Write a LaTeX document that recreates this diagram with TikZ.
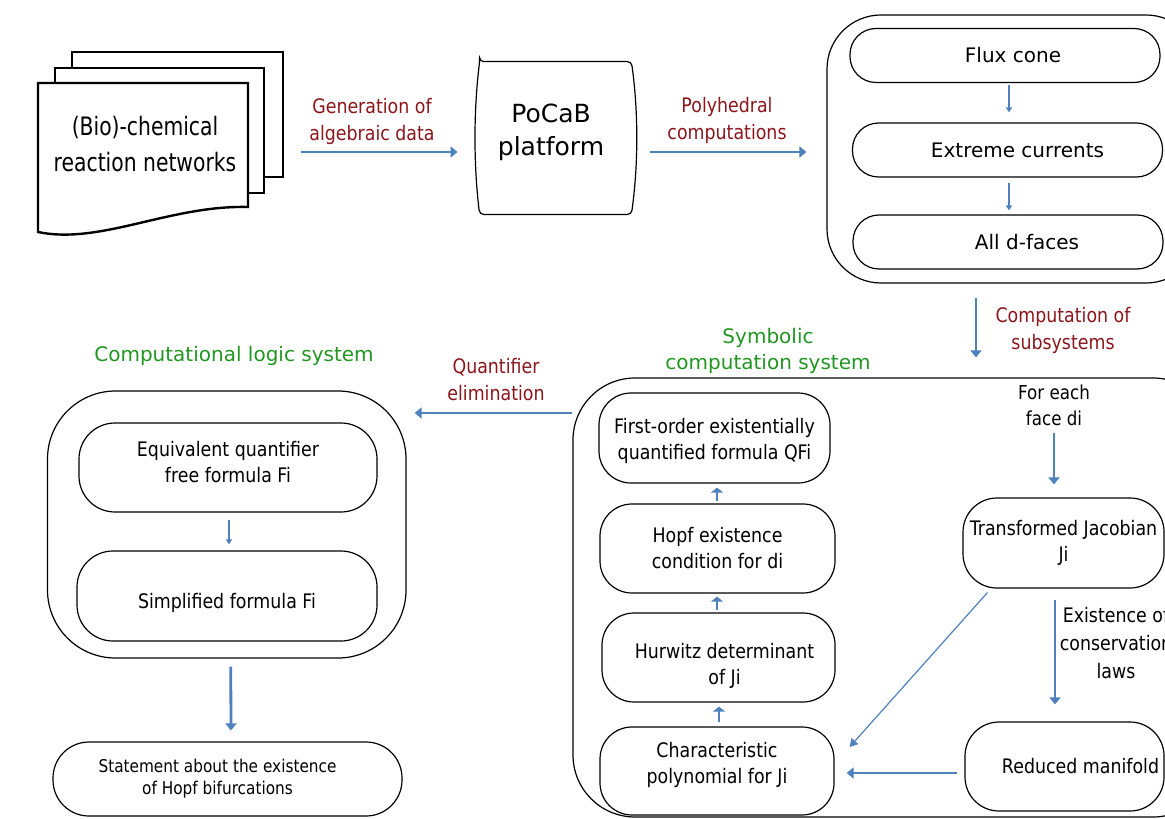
\documentclass[tikz,border=0pt]{standalone}
\usepackage{fontspec}
\setmainfont{DejaVu Sans}
\newfontfamily\condfont[FakeStretch=0.87]{DejaVu Sans}
\newfontfamily\narrowfont[FakeStretch=0.8]{DejaVu Sans}
\usetikzlibrary{arrows.meta}
\definecolor{flowblue}{RGB}{79,129,189}
\definecolor{labelred}{RGB}{140,22,28}
\definecolor{labelgreen}{RGB}{34,150,34}
\newcommand\lowered[2]{\raisebox{#1}[\height][\depth]{\begin{tabular}{@{}c@{}}#2\end{tabular}}}
\tikzset{
  rbox/.style={draw, line width=0.6pt, rounded corners=#1, align=center, inner sep=0pt,
    font=\condfont\fontsize{10}{13}\selectfont},
  rbox/.default=16pt,
  pill/.style={draw, line width=0.6pt, rounded corners=13pt, align=center, inner sep=0pt,
    minimum width=155pt, minimum height=27pt, font=\fontsize{10}{12}\selectfont},
  outer/.style={draw, line width=0.6pt, rounded corners=#1},
  redlabel/.style={text=labelred, align=center, font=\condfont\fontsize{10}{13.5}\selectfont},
  greenlabel/.style={text=labelgreen, align=center, font=\fontsize{10}{13}\selectfont},
  blacklabel/.style={align=center, font=\condfont\fontsize{9.6}{13}\selectfont},
  flow/.style={draw=flowblue, line width=1.4pt, -{Triangle[width=5.5pt,length=3.5pt]}},
  upflow/.style={draw=flowblue, line width=1.4pt, -{Triangle[width=6pt,length=2.5pt]}},
  thinflow/.style={draw=flowblue, line width=0.7pt, -{Triangle[width=3pt,length=2.5pt]}},
  slantflow/.style={draw=flowblue, line width=0.6pt, -{Triangle[width=4.5pt,length=4pt]}}
}
\begin{document}
\begin{tikzpicture}[x=0.5pt,y=-0.5pt]
\clip (0,0) rectangle (1165,818);

% input networks
\draw[line width=1.2pt, fill=white] (72,52) rectangle (283,177);
\draw[line width=1.2pt, fill=white] (55,68) rectangle (264,193);
\draw[line width=1.2pt, fill=white] (38,83) -- (248,83) -- (248,207)
  .. controls (170,205) and (100,245) .. (38,232) -- cycle;
\node[align=center, minimum width=138pt, font=\narrowfont\fontsize{12.7}{18}\selectfont]
  (crn) at (145,144) {(Bio)-chemical\\reaction networks};

\node[align=center, minimum width=80pt, minimum height=76pt, font=\fontsize{12.5}{16.5}\selectfont]
  (pocab) at (551,132) {PoCaB\\platform};
\draw[line width=0.6pt, rounded corners=2pt]
  ([shift={(9,6)}]pocab.north west) -- ([shift={(0,6)}]pocab.north east)
  .. controls ([shift={(7,56)}]pocab.north east) and ([shift={(7,-44)}]pocab.south east)
  .. ([shift={(0,6)}]pocab.south east) -- ([shift={(9,6)}]pocab.south west)
  .. controls ([shift={(3,-44)}]pocab.south west) and ([shift={(3,56)}]pocab.north west)
  .. cycle;

% polyhedral part
\node[outer=27pt, minimum width=186.5pt, minimum height=134pt] (topsys) at (1013.5,149) {};
\node[pill] (fluxcone) at (1005,55.5) {\hspace*{8pt}Flux cone};
\node[pill] (extreme) at (1007.5,150) {\hspace*{10pt}Extreme currents};
\node[pill] (dfaces) at (1008,242) {\hspace*{19pt}All d-faces};

% symbolic part
\node[outer=31pt, minimum width=321pt, minimum height=219.5pt] (symsys) at (894,597.5) {};
\node[rbox, minimum width=115.5pt, minimum height=45pt] (qfi) at (714.5,438)
  {\lowered{-1.5pt}{First-order existentially\\quantified formula QFi}};
\node[rbox, minimum width=117.5pt, minimum height=44.5pt] (hopf) at (717.5,548.5)
  {Hopf existence\\condition for di};
\node[rbox, minimum width=116.5pt, minimum height=44.5pt] (hurwitz) at (718.5,657.5)
  {\lowered{-4.5pt}{\hspace*{6pt}Hurwitz determinant\\\hspace*{6pt}of Ji}};
\node[rbox, minimum width=117pt, minimum height=44pt] (charpoly) at (717,771)
  {\lowered{3pt}{Characteristic\\polynomial for Ji}};
\node[rbox=17pt, minimum width=100.5pt, minimum height=45pt] (jacobian) at (1063.5,543)
  {Transformed Jacobian\\Ji};
\node[rbox=17pt, minimum width=99.5pt, minimum height=44.5pt] (reduced) at (1064.5,766.5)
  {\hspace*{16pt}Reduced manifold};

% logic part
\node[outer=34pt, minimum width=179.25pt, minimum height=133.5pt] (logsys) at (226.75,524.5) {};
\node[rbox=18pt, minimum width=149pt, minimum height=44.5pt] (equiv) at (228,467.5)
  {\lowered{1.5pt}{Equivalent quantifier\\free formula Fi}};
\node[rbox=18pt, minimum width=150pt, minimum height=45pt] (simplified) at (227,596)
  {\lowered{-3.5pt}{Simplified formula Fi}};
\node[rbox=18pt, minimum width=174.5pt, minimum height=37pt, font=\condfont\fontsize{8.8}{11}\selectfont]
  (statement) at (227.5,779)
  {\hspace*{-10pt}Statement about the existence\\\hspace*{-10pt}of Hopf bifurcations};

% labels
\node[redlabel] (gendata) at (372,121) {Generation of\\algebraic data};
\node[redlabel] (polycomp) at (727,120) {Polyhedral\\computations};
\node[redlabel] (compsub) at (1063,330) {Computation of\\subsystems};
\node[greenlabel] (symlabel) at (768,351) {Symbolic\\computation system};
\node[greenlabel] (loglabel) at (234,356) {Computational logic system};
\node[redlabel] (quantelim) at (496,380) {Quantifier\\elimination};
\node[blacklabel] (foreach) at (1054,405) {For each\\face di};
\node[blacklabel, font=\condfont\fontsize{10}{14}\selectfont] (conslaws) at (1116,643)
  {Existence of\\conservation\\laws};

% arrows
\draw[flow] ([shift={(18,8)}]crn.east) -- ([shift={(-13,20)}]pocab.west);
\draw[flow] ([shift={(19,20)}]pocab.east) -- ([shift={(-20,3)}]topsys.west);
\draw[thinflow] ([shift={(4,2)}]fluxcone.south) -- ([shift={(1.5,-10)}]extreme.north);
\draw[thinflow] ([shift={(1.5,5)}]extreme.south) -- ([shift={(1,-4)}]dfaces.north);
\draw[flow] ([shift={(-37.5,14)}]topsys.south) -- ([shift={(82,-20)}]symsys.north);
\draw[flow] (foreach.south) -- ([shift={(-9.5,-13)}]jacobian.north);
\draw[flow] ([shift={(-8.5,11)}]jacobian.south) -- ([shift={(-9.5,-17)}]reduced.north);
\draw[slantflow] ([shift={(25,4)}]jacobian.south west) -- ([shift={(15,-24)}]charpoly.east);
\draw[flow] ([shift={(-7,6.5)}]reduced.west) -- ([shift={(12,2)}]charpoly.east);
\draw[upflow] ([shift={(2,-4)}]charpoly.north) -- ([shift={(0.5,4)}]hurwitz.south);
\draw[upflow] ([shift={(-1.5,-2)}]hurwitz.north) -- ([shift={(-0.5,3)}]hopf.south);
\draw[upflow] ([shift={(-0.5,-2)}]hopf.north) -- ([shift={(2.5,4)}]qfi.south);
\draw[flow] ([shift={(0,-184.5)}]symsys.west) -- ([shift={(8,-111.5)}]logsys.east);
\draw[thinflow] ([shift={(1,7)}]equiv.south) -- ([shift={(2,-6)}]simplified.north);
\draw[flow] ([shift={(4,8)}]logsys.south) -- ([shift={(3.5,-11)}]statement.north);
\end{tikzpicture}
\end{document}
